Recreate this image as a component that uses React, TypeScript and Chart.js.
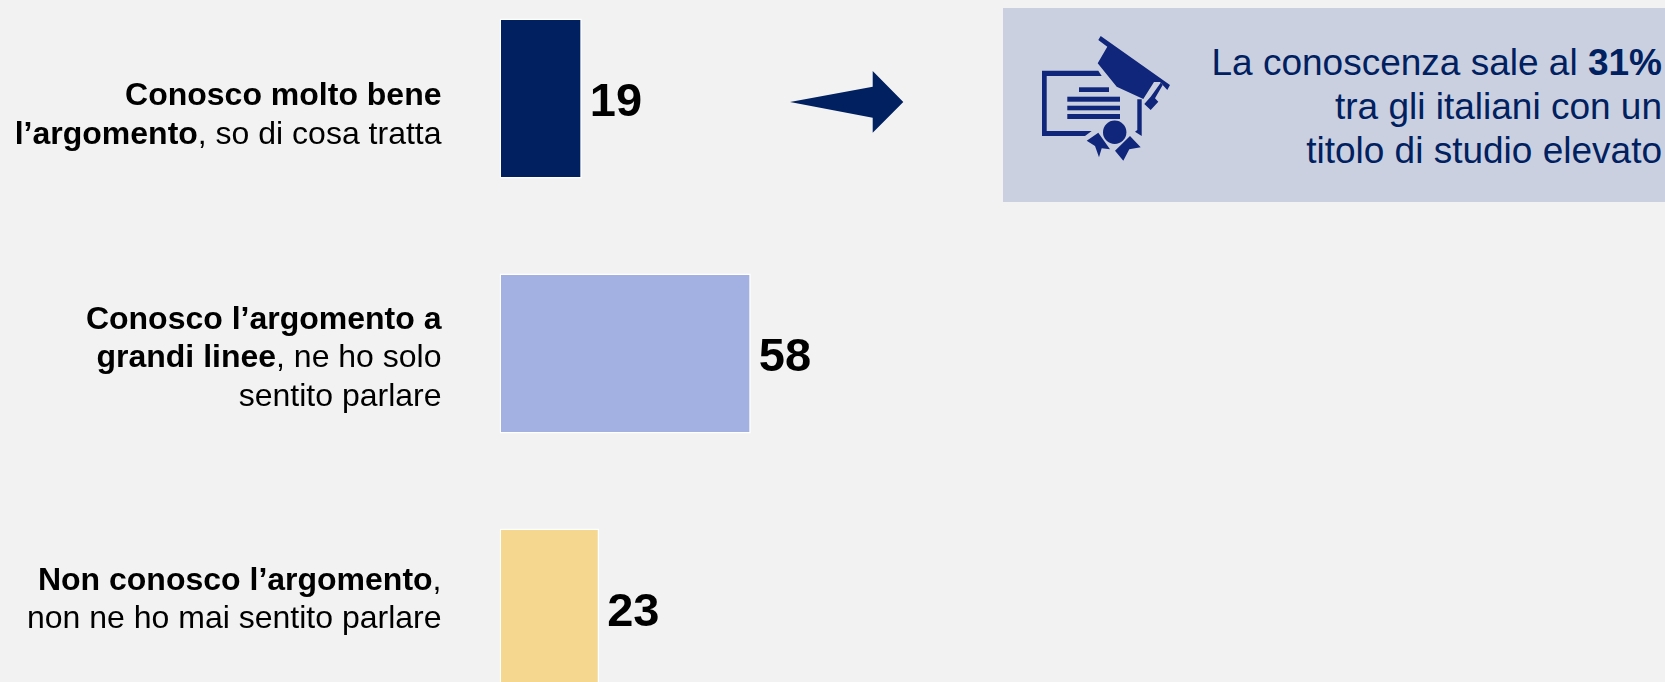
import React, { useEffect, useRef } from "react";
import { Chart, registerables } from "chart.js";

Chart.register(...registerables);

const categories = ["molto bene", "a grandi linee", "non conosco"];
const values = [19, 58, 23];
const barColors = ["#002060", "#A3B0E2", "#F5D78F"];
type Run = { t: string; b?: boolean };
const categoryLines: Run[][][] = [
  [[{ t: "Conosco molto bene", b: true }], [{ t: "l’argomento", b: true }, { t: ", so di cosa tratta" }]],
  [[{ t: "Conosco l’argomento a", b: true }], [{ t: "grandi linee", b: true }, { t: ", ne ho solo" }], [{ t: "sentito parlare" }]],
  [[{ t: "Non conosco l’argomento", b: true }, { t: "," }], [{ t: "non ne ho mai sentito parlare" }]],
];
const labelCenterOffsets = [15, 2.5, -10.5];

const FONT = '"Liberation Sans", Arial, sans-serif';
const LABEL_PX = 32;
const LINE_H = 38.5;
const VALUE_PX = 47;

const barText = {
  id: "barText",
  afterDatasetsDraw(chart: any) {
    const { ctx } = chart;
    const meta = chart.getDatasetMeta(0);
    ctx.save();
    ctx.fillStyle = "#000";
    meta.data.forEach((bar: any, i: number) => {
      ctx.textAlign = "left";
      ctx.font = `bold ${VALUE_PX}px ${FONT}`;
      ctx.textBaseline = "middle";
      ctx.fillText(String(values[i]), bar.x + 8, bar.y + 5);
      ctx.textBaseline = "alphabetic";
      const lines = categoryLines[i];
      const cy = chart.scales.y.getPixelForTick(i) + labelCenterOffsets[i];
      lines.forEach((runs, li) => {
        const base = cy + (li - (lines.length - 1) / 2) * LINE_H + LABEL_PX * 0.35;
        let x = 441.5;
        for (let r = runs.length - 1; r >= 0; r--) {
          ctx.font = `${runs[r].b ? "bold " : ""}${LABEL_PX}px ${FONT}`;
          ctx.textAlign = "right";
          ctx.fillText(runs[r].t, x, base);
          x -= ctx.measureText(runs[r].t).width;
        }
      });
    });
    ctx.restore();
  },
};

export default function App() {
  const ref = useRef<HTMLCanvasElement>(null);
  useEffect(() => {
    document.body.style.margin = "0";
    const chart = new Chart(ref.current!, {
      type: "bar",
      data: {
        labels: categories,
        datasets: [
          {
            data: values,
            backgroundColor: barColors,
            borderColor: "#ffffff",
            borderWidth: 1.5,
            borderSkipped: false,
            barPercentage: 0.627,
            categoryPercentage: 1,
          },
        ],
      },
      options: {
        indexAxis: "y",
        responsive: false,
        animation: false,
        layout: { padding: { left: 499.5, right: 0, top: 0, bottom: 0 } },
        plugins: { legend: { display: false }, tooltip: { enabled: false } },
        scales: {
          x: { display: false, min: 0, max: 269 },
          y: { display: false },
        },
      },
      plugins: [barText],
    });
    return () => chart.destroy();
  }, []);

  const navy = "#002060";
  const icon = "#10267A";
  return (
    <div style={{ position: "fixed", left: 0, top: 0, width: 1665, height: 682, overflow: "hidden", background: "#F2F2F2" }}>
      <canvas ref={ref} width={1665} height={765} style={{ position: "absolute", left: 0, top: -29, display: "block" }} />
      <svg width={1665} height={682} style={{ position: "absolute", left: 0, top: 0 }}>
        <polygon points="790,102 872.7,86.7 872.7,71 903.3,102 872.7,132.7 872.7,117.7" fill={navy} />
        <rect x={1003} y={8} width={662} height={194} fill="#CAD0E0" />
        <g fill={icon}>
          <polygon points="1100.7,36 1170,85 1167.3,90 1160,82 1154,82 1143.3,99 1116.7,86.7 1097.7,63.3 1107.3,46.7 1098.3,40" />
          <polygon points="1160.7,82.7 1162.7,85 1155,98.3 1158.3,101.7 1150.7,110 1144.3,104 1150.7,96.7" />
          <polygon points="1042,70.7 1098.3,70.7 1101.7,76 1046.7,76 1046.7,131 1091.7,131 1085,136 1042,136" />
          <polygon points="1137.3,99.3 1141.7,99.3 1141.7,136 1135,131.7 1137.3,130" />
          <rect x={1079} y={87.3} width={30} height={4.7} />
          <rect x={1067.3} y={96.7} width={52.7} height={5} />
          <rect x={1067.3} y={105.7} width={52.7} height={4.6} />
          <rect x={1067.3} y={114} width={52.7} height={5} />
          <circle cx={1114.7} cy={132.3} r={11.7} />
          <polygon points="1086.7,140.7 1098.3,132.7 1110,149.3 1101.7,148.3 1099,157.3 1095,146" />
          <polygon points="1115,150.7 1130,136 1140.7,147.3 1129.3,149.3 1123.3,160.7" />
        </g>
        <g fontFamily={FONT} fontSize={37} fill={navy} textAnchor="end">
          <text x={1662} y={75}>La conoscenza sale al <tspan fontWeight="bold">31%</tspan></text>
          <text x={1662} y={119}>tra gli italiani con un</text>
          <text x={1662} y={163}>titolo di studio elevato</text>
        </g>
      </svg>
    </div>
  );
}
